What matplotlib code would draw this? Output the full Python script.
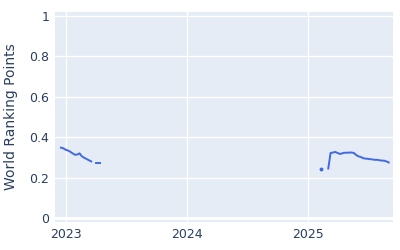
import numpy as np
import pandas as pd
import matplotlib
matplotlib.use("Agg")
import matplotlib.pyplot as plt
import matplotlib.dates as mdates

# weekly world ranking points, three runs with gaps between them
dates_a = pd.date_range("2022-12-18", periods=14, freq="7D")
pts_a = [0.348, 0.345, 0.338, 0.334, 0.328, 0.320, 0.313,
         0.314, 0.320, 0.305, 0.298, 0.292, 0.286, 0.280]

dates_b = pd.date_range("2023-04-02", periods=3, freq="7D")
pts_b = [0.274, 0.274, 0.274]

dates_c = pd.to_datetime(["2025-02-09"])
pts_c = [0.243]

dates_d = pd.date_range("2025-03-02", periods=27, freq="7D")
pts_d = [0.245, 0.322, 0.324, 0.327, 0.322, 0.317, 0.320, 0.323, 0.323,
         0.324, 0.324, 0.322, 0.312, 0.305, 0.302, 0.296, 0.294, 0.293,
         0.291, 0.290, 0.288, 0.288, 0.286, 0.284, 0.284, 0.280, 0.275]

blue = "#4169E1"
txt = "#2a3f5f"

fig = plt.figure(figsize=(4, 2.5), dpi=100)
ax = fig.add_axes([0.1375, 0.112, 0.845, 0.84])
ax.set_facecolor("#E5ECF6")

for d, v in [(dates_a, pts_a), (dates_b, pts_b), (dates_d, pts_d)]:
    ax.plot(d, v, color=blue, lw=1.4)
ax.plot(dates_c, pts_c, "o", color=blue, ms=1.8)

ax.set_xlim(pd.Timestamp("2022-11-30"), pd.Timestamp("2025-09-13"))
ax.set_ylim(-0.02, 1.02)
ax.set_yticks([0, 0.2, 0.4, 0.6, 0.8, 1])
ax.set_yticklabels(["0", "0.2", "0.4", "0.6", "0.8", "1"])
ax.xaxis.set_major_locator(mdates.YearLocator())
ax.xaxis.set_major_formatter(mdates.DateFormatter("%Y"))

ax.grid(True, color="white", lw=1)
ax.axhline(0, color="white", lw=2, zorder=1)
ax.set_axisbelow(True)
for s in ax.spines.values():
    s.set_visible(False)
ax.tick_params(length=0, colors=txt, labelsize=9, pad=4)
ax.set_ylabel("World Ranking Points", color=txt, fontsize=10, labelpad=8)

fig.savefig("out.png", dpi=100)
